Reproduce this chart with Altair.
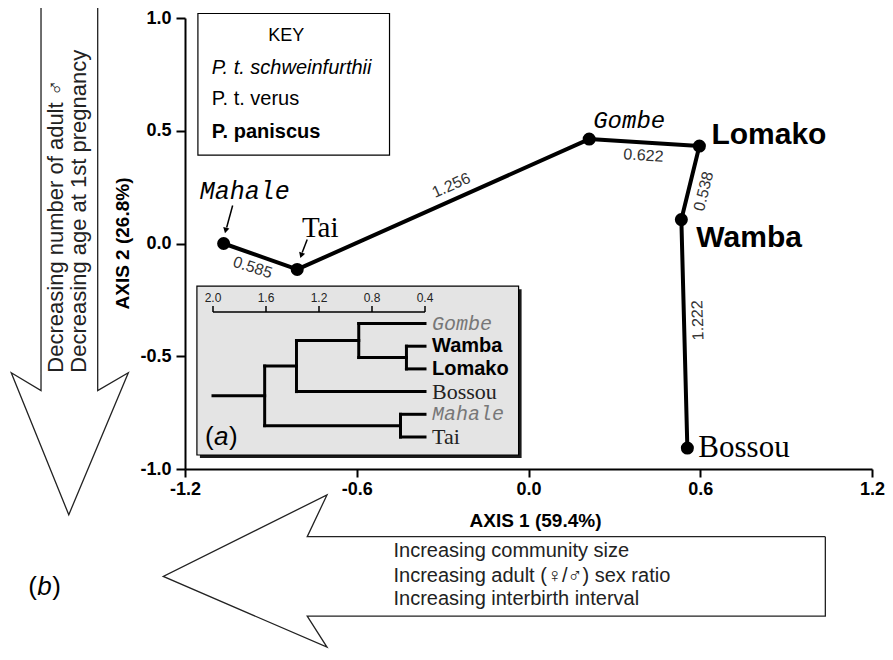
import altair as alt
import pandas as pd

# ------------------------------------------------------------------ data
sites = ["Mahale", "Tai", "Gombe", "Lomako", "Wamba", "Bossou"]
axis1 = [-1.065, -0.808, 0.212, 0.597, 0.534, 0.555]
axis2 = [0.000, -0.115, 0.463, 0.432, 0.106, -0.907]
edge_labels = ["0.585", "1.256", "0.622", "0.538", "1.222"]  # between consecutive sites

dendro_leaves = ["Gombe", "Wamba", "Lomako", "Bossou", "Mahale", "Tai"]
dendro_merge_a = ["Wamba", "Mahale", "Gombe", "GWL", "GWLB"]
dendro_merge_b = ["Lomako", "Tai", "WL", "Bossou", "MT"]
dendro_merge_name = ["WL", "MT", "GWL", "GWLB", "ROOT"]
dendro_merge_height = [0.54, 0.585, 0.90, 1.37, 1.61]
dendro_leaf_height = 0.4
dendro_root_height = 2.0
dendro_ticks = [2.0, 1.6, 1.2, 0.8, 0.4]

key_title = "KEY"
key_lines = ["P. t. schweinfurthii", "P. t. verus", "P. paniscus"]
axis1_notes = ["Increasing community size",
               "Increasing adult (\u2640/\u2642) sex ratio",
               "Increasing interbirth interval"]
axis2_notes = ["Decreasing number of adult \u2642", "Decreasing age at 1st pregnancy"]

# ------------------------------------------------------------------ layout (main data units)
X_DOMAIN = [-1.2, 1.2]
Y_DOMAIN = [-1.0, 1.0]
down_arrow_x = [-1.703, -1.505, -1.505, -1.398, -1.606, -1.807, -1.703, -1.703]
down_arrow_y = [1.055, 1.055, -0.652, -0.573, -1.203, -0.573, -0.652, 1.055]
left_arrow_x = [1.037, -0.773, -0.704, -1.276, -0.704, -0.773, 1.037, 1.037]
left_arrow_y = [-1.300, -1.300, -1.115, -1.476, -1.790, -1.652, -1.652, -1.300]
key_box = dict(x=-1.1549, x2=-0.4855, y=1.0200, y2=0.3921)
key_title_pos = (-0.846, 0.9207)
key_lines_x = -1.1064
key_lines_y = [0.7797, 0.6388, 0.4934]
inset_box = dict(x=-1.1584, x2=-0.0346, y=-0.1894, y2=-0.938)
axis2_notes_x = [-1.6509, -1.5711]
axis2_notes_y = -0.5727
axis1_notes_x = -0.4717
axis1_notes_y = [-1.3656, -1.4758, -1.5771]
b_label_pos = (-1.748, -1.524)

# dendrogram scale placement (dendrogram units)
DX_DOMAIN = [-2.9736, 2.2113]
DY_DOMAIN = [-13.46, 6.41]
scale_bar_y = -0.51
a_label_pos = (2.06, 5.0)

# ------------------------------------------------------------------ styles
SANS, SERIF, MONO = "Liberation Sans", "Liberation Serif", "Liberation Mono"
site_style = {
    "Mahale": dict(font=MONO, fontStyle="italic", fontSize=25, align="center", dx=21, dy=-53),
    "Tai": dict(font=SERIF, fontSize=29, align="center", dx=23, dy=-41),
    "Gombe": dict(font=MONO, fontStyle="italic", fontSize=24, align="center", dx=40, dy=-18),
    "Lomako": dict(font=SANS, fontWeight="bold", fontSize=30, align="left", dx=12, dy=-11),
    "Wamba": dict(font=SANS, fontWeight="bold", fontSize=30, align="left", dx=15, dy=18),
    "Bossou": dict(font=SERIF, fontSize=31, align="left", dx=11, dy=0),
}
edge_style = [
    dict(angle=18, dx=-4, dy=13),
    dict(angle=336, dx=15, dy=-14),
    dict(angle=4, dx=0, dy=13),
    dict(angle=284, dx=-5, dy=15),
    dict(angle=268, dx=13, dy=14),
]
leaf_style = {
    "Gombe": dict(font=MONO, fontStyle="italic", fontSize=20, color="#777777"),
    "Wamba": dict(font=SANS, fontWeight="bold", fontSize=20, color="black"),
    "Lomako": dict(font=SANS, fontWeight="bold", fontSize=20, color="black"),
    "Bossou": dict(font=SERIF, fontSize=22, color="#222222"),
    "Mahale": dict(font=MONO, fontStyle="italic", fontSize=20, color="#777777"),
    "Tai": dict(font=SERIF, fontSize=22, color="#222222"),
}

# ------------------------------------------------------------------ encodings
def neg_hyphen(fmt):
    return "replace(format(datum.value, '%s'), '\u2212', '-')" % fmt

ax_x = alt.Axis(title="AXIS 1 (59.4%)", values=[-1.2, -0.6, 0.0, 0.6, 1.2],
                labelExpr=neg_hyphen(".1f"), grid=False, tickSize=8, tickWidth=2,
                tickColor="black", domainColor="black", domainWidth=2,
                labelFont=SANS, labelFontWeight="bold", labelFontSize=18, labelColor="black",
                labelPadding=3, labelFlush=False, labelOverlap=False,
                titleFont=SANS, titleFontWeight="bold", titleFontSize=19, titleColor="black",
                titleX=350, titleY=51, titleBaseline="middle", titleAlign="center")
ax_y = alt.Axis(title="AXIS 2 (26.8%)", values=[-1.0, -0.5, 0.0, 0.5, 1.0],
                labelExpr=neg_hyphen(".1f"), grid=False, tickSize=9, tickWidth=2,
                tickColor="black", domainColor="black", domainWidth=2,
                labelFont=SANS, labelFontWeight="bold", labelFontSize=18, labelColor="black",
                labelPadding=5, labelFlush=False, labelOverlap=False,
                titleFont=SANS, titleFontWeight="bold", titleFontSize=19, titleColor="black",
                titleX=-63, titleY=225, titleAngle=270, titleBaseline="middle", titleAlign="center")

XS = alt.Scale(domain=X_DOMAIN, nice=False, zero=False)
YS = alt.Scale(domain=Y_DOMAIN, nice=False, zero=False)


def X(f="x"):
    return alt.X(f, type="quantitative", scale=XS, axis=ax_x)


def Y(f="y"):
    return alt.Y(f, type="quantitative", scale=YS, axis=ax_y)


DXS = alt.Scale(domain=DX_DOMAIN, nice=False, zero=False, reverse=True)
DYS = alt.Scale(domain=DY_DOMAIN, nice=False, zero=False, reverse=True)


def DX(f="x"):
    return alt.X(f, type="quantitative", scale=DXS, axis=None)


def DY(f="y"):
    return alt.Y(f, type="quantitative", scale=DYS, axis=None)


def text_main(df, **mk):
    mk.setdefault("baseline", "middle")
    mk.setdefault("color", "black")
    return alt.Chart(df).mark_text(**mk).encode(x=X(), y=Y(), text=alt.Text("t:N"))


def text_dendro(df, **mk):
    mk.setdefault("baseline", "middle")
    mk.setdefault("color", "black")
    return alt.Chart(df).mark_text(**mk).encode(x=DX(), y=DY(), text=alt.Text("t:N"))


# ------------------------------------------------------------------ main layers
pts = pd.DataFrame({"site": sites, "x": axis1, "y": axis2, "i": range(len(sites))})
layers = []

# big direction arrows
for xs, ys in [(down_arrow_x, down_arrow_y), (left_arrow_x, left_arrow_y)]:
    dfa = pd.DataFrame({"x": xs, "y": ys, "i": range(len(xs))})
    layers.append(alt.Chart(dfa).mark_line(color="#222222", strokeWidth=1.3, strokeJoin="miter")
                  .encode(x=X(), y=Y(), order=alt.Order("i:Q")))

# KEY box
layers.append(alt.Chart(pd.DataFrame([key_box])).mark_rect(fill="white", stroke="black", strokeWidth=1.2)
              .encode(x=X(), x2="x2", y=Y(), y2="y2"))
layers.append(text_main(pd.DataFrame({"x": [key_title_pos[0]], "y": [key_title_pos[1]], "t": [key_title]}),
                        font=SANS, fontSize=18, align="center"))
key_styles = [dict(fontStyle="italic"), dict(), dict(fontWeight="bold")]
for line, yy, st in zip(key_lines, key_lines_y, key_styles):
    layers.append(text_main(pd.DataFrame({"x": [key_lines_x], "y": [yy], "t": [line]}),
                            font=SANS, fontSize=20, align="left", **st))

# inset box (shadow + box)
ib = pd.DataFrame([inset_box])
layers.append(alt.Chart(ib).mark_rect(fill="#1a1a1a", xOffset=3, x2Offset=3, yOffset=3, y2Offset=3)
              .encode(x=X(), x2="x2", y=Y(), y2="y2"))
layers.append(alt.Chart(ib).mark_rect(fill="#e4e4e4", stroke="black", strokeWidth=1.2)
              .encode(x=X(), x2="x2", y=Y(), y2="y2"))

# path (minimum spanning path) and points
layers.append(alt.Chart(pts).mark_line(color="black", strokeWidth=4, strokeJoin="round")
              .encode(x=X(), y=Y(), order=alt.Order("i:Q")))
layers.append(alt.Chart(pts).mark_point(filled=True, color="black", size=170, opacity=1, shape="circle")
              .encode(x=X(), y=Y()))

# edge distance labels at segment midpoints
for k, lab in enumerate(edge_labels):
    mid = pd.DataFrame({"x": [(axis1[k] + axis1[k + 1]) / 2], "y": [(axis2[k] + axis2[k + 1]) / 2],
                        "t": [lab]})
    layers.append(text_main(mid, font=SANS, fontSize=16, color="#333333", align="center",
                            **edge_style[k]))

# site labels
for s, xx, yy in zip(sites, axis1, axis2):
    layers.append(text_main(pd.DataFrame({"x": [xx], "y": [yy], "t": [s]}), **site_style[s]))

# small pointer arrows for Mahale and Tai
pointer = {"Mahale": (9, -38, 3, -16, 14), "Tai": (10, -30, 5, -17, 19)}
for s, (ox, oy, ex, ey, ang) in pointer.items():
    dfp = pts[pts.site == s]
    layers.append(alt.Chart(dfp).mark_rule(color="black", strokeWidth=1.5, xOffset=ox, yOffset=oy,
                                           x2Offset=ex, y2Offset=ey)
                  .encode(x=X(), x2="x", y=Y(), y2="y"))
    layers.append(alt.Chart(dfp).mark_point(shape="triangle-down", filled=True, color="black", size=40,
                                            opacity=1, angle=ang, xOffset=ex - 1, yOffset=ey + 3)
                  .encode(x=X(), y=Y()))

# direction notes
for line, xx in zip(axis2_notes, axis2_notes_x):
    layers.append(text_main(pd.DataFrame({"x": [xx], "y": [axis2_notes_y], "t": [line]}),
                            font=SANS, fontSize=22, angle=270, align="left", color="#222222"))
for line, yy in zip(axis1_notes, axis1_notes_y):
    layers.append(text_main(pd.DataFrame({"x": [axis1_notes_x], "y": [yy], "t": [line]}),
                            font=SANS, fontSize=20, align="left", color="#222222"))

# (b) label
bdf = pd.DataFrame({"x": [b_label_pos[0]], "y": [b_label_pos[1]]})
for t, dx, st in [("(", 0, {}), ("b", 9, {"fontStyle": "italic"}), (")", 24, {})]:
    layers.append(text_main(bdf.assign(t=t), font=SANS, fontSize=26, align="left", dx=dx, **st))

main = alt.layer(*layers)

# ------------------------------------------------------------------ dendrogram inset
ypos = {leaf: float(i) for i, leaf in enumerate(dendro_leaves)}
hgt = {leaf: dendro_leaf_height for leaf in dendro_leaves}
segs = []
for n, a, b, h in zip(dendro_merge_name, dendro_merge_a, dendro_merge_b, dendro_merge_height):
    segs.append((h, ypos[a], h, ypos[b]))
    segs.append((hgt[a], ypos[a], h, ypos[a]))
    segs.append((hgt[b], ypos[b], h, ypos[b]))
    ypos[n] = (ypos[a] + ypos[b]) / 2
    hgt[n] = h
segs.append((hgt["ROOT"], ypos["ROOT"], dendro_root_height, ypos["ROOT"]))
segdf = pd.DataFrame(segs, columns=["x", "y", "x2", "y2"])

dl = []
dl.append(alt.Chart(segdf).mark_rule(color="black", strokeWidth=3, strokeCap="square")
          .encode(x=DX(), x2="x2", y=DY(), y2="y2"))
# scale bar
sb = pd.DataFrame({"x": [max(dendro_ticks)], "x2": [min(dendro_ticks)], "y": [scale_bar_y]})
dl.append(alt.Chart(sb).mark_rule(color="black", strokeWidth=1.5)
          .encode(x=DX(), x2="x2", y=DY(), y2="y"))
tk = pd.DataFrame({"x": dendro_ticks, "y": [scale_bar_y] * len(dendro_ticks),
                   "t": ["%.1f" % v for v in dendro_ticks]})
dl.append(alt.Chart(tk).mark_rule(color="black", strokeWidth=1.5, y2Offset=-6)
          .encode(x=DX(), y=DY(), y2="y"))
dl.append(text_dendro(tk, font=SANS, fontSize=12, align="center", dy=-14, color="#222222"))
# leaf labels
for leaf in dendro_leaves:
    st = dict(leaf_style[leaf])
    dl.append(text_dendro(pd.DataFrame({"x": [dendro_leaf_height], "y": [ypos[leaf]], "t": [leaf]}),
                          align="left", dx=7, **st))
# (a) label
adf = pd.DataFrame({"x": [a_label_pos[0]], "y": [a_label_pos[1]]})
for t, dx, st in [("(", 0, {}), ("a", 9, {"fontStyle": "italic"}), (")", 24, {})]:
    dl.append(text_dendro(adf.assign(t=t), font=SANS, fontSize=26, align="left", dx=dx, **st))

dendro = alt.layer(*dl)

chart = (alt.layer(main, dendro)
         .resolve_scale(x="independent", y="independent")
         .properties(width=687, height=451,
                     padding={"left": 177, "top": 10, "right": 13, "bottom": 180},
                     autosize=alt.AutoSizeParams(type="none"),
                     background="white")
         .configure_view(stroke=None))

chart.save("out.html", embed_options={"renderer": "svg", "actions": False})
